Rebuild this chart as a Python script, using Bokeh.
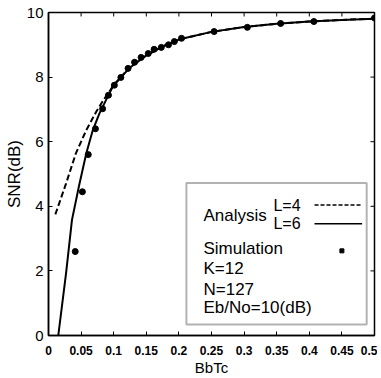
from bokeh.plotting import figure
from bokeh.models import Range1d, FixedTicker, Label, BoxAnnotation
from bokeh.embed import file_html
from bokeh.resources import INLINE

# ---- data ----
l6_x = [0.015, 0.027, 0.036, 0.047, 0.058, 0.068, 0.078, 0.088, 0.099, 0.124,
        0.150, 0.176, 0.201, 0.25, 0.30, 0.35, 0.40, 0.45, 0.50]
l6_y = [0.0, 1.94, 3.58, 4.65, 5.64, 6.36, 6.87, 7.28, 7.72, 8.28,
        8.67, 8.96, 9.17, 9.40, 9.55, 9.65, 9.72, 9.77, 9.81]

l4_x = [0.0105, 0.027, 0.042, 0.058, 0.073, 0.083, 0.095, 0.10, 0.124,
        0.150, 0.176, 0.201, 0.25, 0.30, 0.35, 0.40, 0.45, 0.50]
l4_y = [3.75, 4.71, 5.64, 6.36, 6.92, 7.25, 7.60, 7.76, 8.29,
        8.67, 8.96, 9.17, 9.40, 9.55, 9.65, 9.72, 9.77, 9.81]

sim_x = [0.041, 0.052, 0.061, 0.072, 0.083, 0.092, 0.101, 0.111, 0.122, 0.132,
         0.142, 0.153, 0.162, 0.173, 0.184, 0.193, 0.204, 0.254, 0.305, 0.356,
         0.407, 0.50]
sim_y = [2.60, 4.45, 5.60, 6.40, 7.02, 7.44, 7.75, 7.99, 8.27, 8.46,
         8.61, 8.73, 8.86, 8.92, 9.00, 9.10, 9.20, 9.41, 9.54, 9.66,
         9.72, 9.83]

x_ticks = [0, 0.05, 0.1, 0.15, 0.2, 0.25, 0.3, 0.35, 0.4, 0.45, 0.5]
x_tick_labels = ["0", "0.05", "0.1", "0.15", "0.2", "0.25", "0.3", "0.35", "0.4", "0.45", "0.5"]
y_ticks = [0, 2, 4, 6, 8, 10]
y_tick_labels = ["0", "2", "4", "6", "8", "10"]

legend_texts = ["Analysis", "L=4", "L=6", "Simulation", "K=12", "N=127", "Eb/No=10(dB)"]

FONT = "Liberation Sans"
X0, X1, Y0, Y1 = 0.0, 0.5, 0.0, 10.0

p = figure(width=377, height=378, output_backend="svg", toolbar_location=None,
           x_range=Range1d(X0, X1), y_range=Range1d(Y0, Y1),
           min_border_left=48, min_border_right=3, min_border_top=12, min_border_bottom=42)
p.grid.visible = False
p.outline_line_color = "black"
p.outline_line_width = 1.5

for ax in (p.xaxis[0], p.yaxis[0]):
    ax.axis_line_color = "black"
    ax.axis_line_width = 1.5
    ax.major_tick_in = 4
    ax.major_tick_out = 0
    ax.major_tick_line_width = 1
    ax.minor_tick_line_color = None
    ax.axis_label_text_font = FONT
    ax.axis_label_text_font_style = "normal"
    ax.major_label_text_font = FONT
    ax.major_label_text_color = "black"
    ax.axis_label_text_color = "black"

p.xaxis[0].ticker = FixedTicker(ticks=x_ticks)
p.xaxis[0].major_label_overrides = dict(zip(x_ticks, x_tick_labels))
p.xaxis[0].major_label_text_font_size = "12px"
p.xaxis[0].major_label_text_font_style = "bold"
p.xaxis[0].major_label_standoff = 10
p.xaxis[0].axis_label = "BbTc"
p.xaxis[0].axis_label_text_font_size = "15px"
p.xaxis[0].axis_label_standoff = 1

p.yaxis[0].ticker = FixedTicker(ticks=y_ticks)
p.yaxis[0].major_label_overrides = dict(zip(y_ticks, y_tick_labels))
p.yaxis[0].major_label_text_font_size = "15px"
p.yaxis[0].major_label_standoff = 5
p.yaxis[0].axis_label = "SNR(dB)"
p.yaxis[0].axis_label_text_font_size = "17px"
p.yaxis[0].axis_label_standoff = 0

# inward ticks on top and right edges (MATLAB box style)
tick_dy = 4 * (Y1 - Y0) / 324
tick_dx = 4 * (X1 - X0) / 326
p.segment(x0=x_ticks, y0=[Y1] * len(x_ticks), x1=x_ticks, y1=[Y1 - tick_dy] * len(x_ticks),
          line_color="black", line_width=1)
p.segment(x0=[X1] * len(y_ticks), y0=y_ticks, x1=[X1 - tick_dx] * len(y_ticks), y1=y_ticks,
          line_color="black", line_width=1)

# curves
p.line(l4_x, l4_y, line_color="black", line_width=2, line_dash="6 3")
p.line(l6_x, l6_y, line_color="black", line_width=2)
p.scatter(sim_x, sim_y, size=6, color="black")

# legend box (manual, MATLAB style)
box = BoxAnnotation(left=0.2115, right=0.488, bottom=0.34, top=4.72,
                    fill_color=None, line_color="black", line_width=2)
p.add_layout(box)

p.line([0.408, 0.481], [4.04, 4.04], line_color="black", line_width=1.5, line_dash="4 2")
p.line([0.408, 0.481], [3.46, 3.46], line_color="black", line_width=1.5)
p.scatter([0.45], [2.62], size=4, color="black", marker="square")

lab_pos = [(0.2377, 3.73, 17), (0.345, 4.04, 16), (0.345, 3.46, 16),
           (0.2377, 2.69, 17), (0.2377, 2.07, 17), (0.2377, 1.42, 17), (0.2377, 0.86, 17)]
for t, (lx, ly, fs) in zip(legend_texts, lab_pos):
    p.add_layout(Label(x=lx, y=ly, text=t, text_baseline="middle", text_align="left",
                       text_font=FONT, text_font_size=f"{fs}px", text_color="black"))

open("out.html", "w").write(file_html(p, INLINE))
